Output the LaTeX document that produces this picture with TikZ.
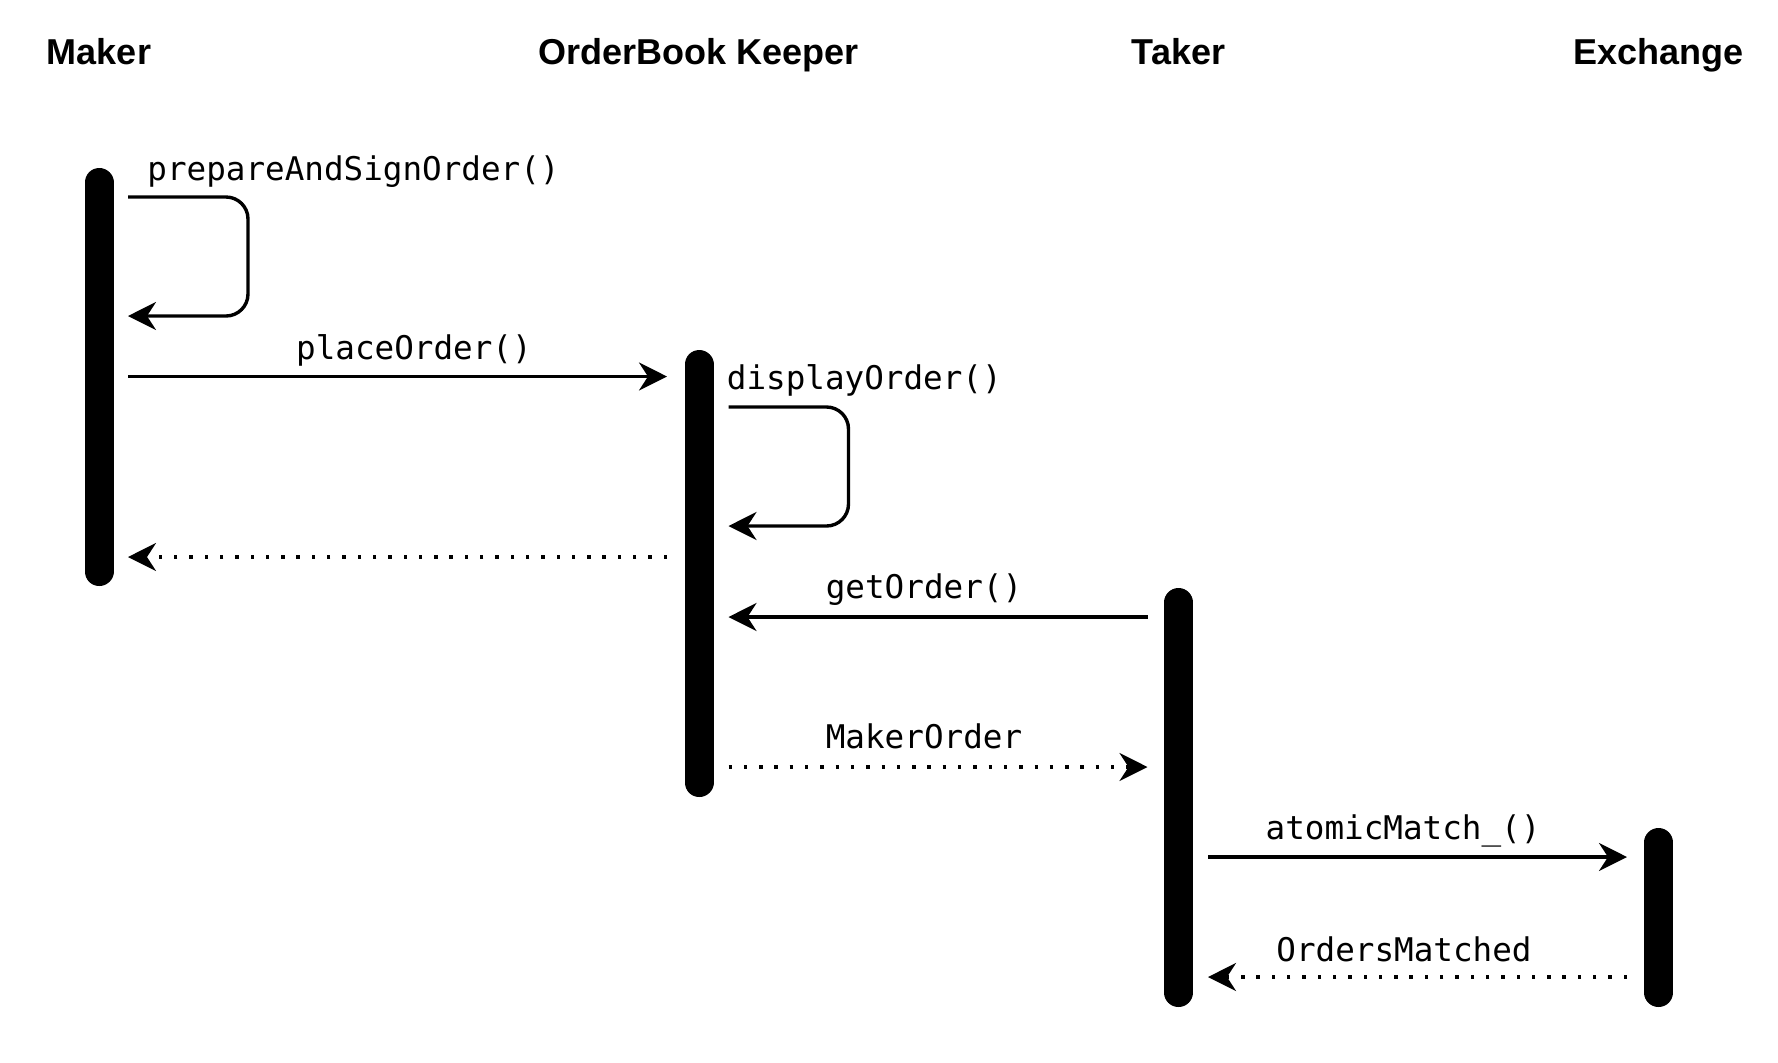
\documentclass[tikz,border=0pt]{standalone}
\usepackage{fontspec}
\setmainfont{Liberation Sans}
\newfontfamily\msgfont{DejaVu Sans Mono}
\usetikzlibrary{arrows.meta}

\tikzset{
  actor/.style={font=\fontsize{18}{21}\selectfont\bfseries, anchor=base, inner sep=0pt},
  lifebar/.style={line width=14.5pt, line cap=round},
  msg/.style={line width=1.7pt, -{Stealth[length=14pt, width=14pt, inset=4.5pt]}},
  reply/.style={msg, dash pattern=on 1.7pt off 5.95pt},
  call/.style={font=\msgfont\fontsize{16.3}{19}\selectfont, anchor=base, inner sep=0pt},
}

\begin{document}
\begin{tikzpicture}[x=0.5pt, y=-0.5pt]
        \useasboundingbox (0,0) rectangle (1778,1062);
        % participants
        \node[actor] (maker)    at (99,64)   {Maker};
        \node[actor] (keeper)   at (699,64)  {OrderBook Keeper};
        \node[actor] (taker)    at (1178.5,64) {Taker};
        \node[actor] (exchange) at (1658.6,64) {Exchange};
        % activation bars
        \coordinate (makerTop) at (99,182.5);      \coordinate (makerBot) at (99,571.5);
        \coordinate (keeperTop) at (699,364.5);    \coordinate (keeperBot) at (699,782.5);
        \coordinate (takerTop) at (1178.5,602.5);  \coordinate (takerBot) at (1178.5,992.5);
        \coordinate (exchTop) at (1658.6,842.5);   \coordinate (exchBot) at (1658.6,992.5);
        \draw[lifebar] (makerTop)--(makerBot);
        \draw[lifebar] (keeperTop)--(keeperBot);
        \draw[lifebar] (takerTop)--(takerBot);
        \draw[lifebar] (exchTop)--(exchBot);
        % message ends
        \coordinate (signOut) at (128,197);   \coordinate (signIn) at (128,316);
        \coordinate (placeFrom) at (128,376.5); \coordinate (placeTo) at (667,376.5);
        \coordinate (showOut) at (728.5,407); \coordinate (showIn) at (728.5,526);
        \coordinate (ackFrom) at (667,557);   \coordinate (ackTo) at (128,557);
        \coordinate (getFrom) at (1147.5,617); \coordinate (getTo) at (728.5,617);
        \coordinate (bookFrom) at (728.5,767); \coordinate (bookTo) at (1147.5,767);
        \coordinate (matchFrom) at (1208,857); \coordinate (matchTo) at (1627,857);
        \coordinate (doneFrom) at (1627,977);  \coordinate (doneTo) at (1208,977);
        % messages
        \draw[msg, rounded corners=11pt] (signOut) -- ++(120,0) -- ++(0,119) -- (signIn);
        \node[call, anchor=base west] (signLbl) at (147,180) {prepareAndSignOrder()};
        \draw[msg] (placeFrom) -- (placeTo);
        \node[call] (placeLbl) at (414,359) {placeOrder()};
        \draw[msg, rounded corners=11pt] (showOut) -- ++(120,0) -- ++(0,119) -- (showIn);
        \node[call, anchor=base west] (showLbl) at (726.5,389) {displayOrder()};
        \draw[reply] (ackFrom) -- (ackTo);
        \draw[msg] (getFrom) -- (getTo);
        \node[call] (getLbl) at (924,598) {getOrder()};
        \draw[reply] (bookFrom) -- (bookTo);
        \node[call] (bookLbl) at (924,748) {MakerOrder};
        \draw[msg] (matchFrom) -- (matchTo);
        \node[call] (matchLbl) at (1403,839) {atomicMatch\_()};
        \draw[reply] (doneFrom) -- (doneTo);
        \node[call] (doneLbl) at (1404,961) {OrdersMatched};
\end{tikzpicture}
\end{document}
